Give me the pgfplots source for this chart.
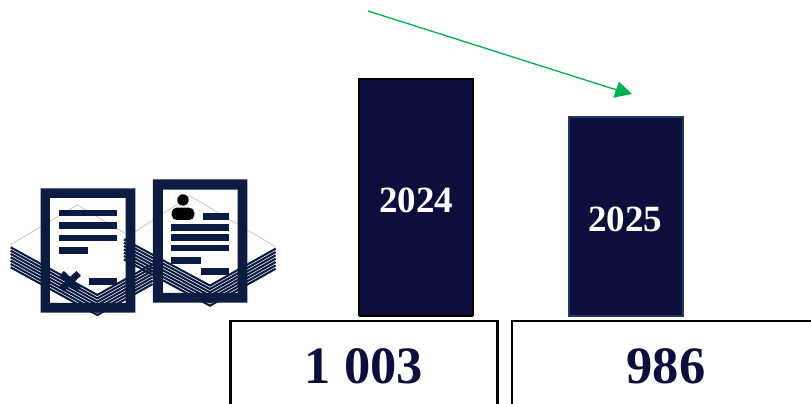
\documentclass[border=0pt]{standalone}
\usepackage{fontspec}
\setmainfont{Liberation Serif}
\usepackage{pgfplots}
\pgfplotsset{compat=1.18}
\definecolor{barnavy}{HTML}{0C0F3C}
\definecolor{iconnavy}{HTML}{0B1B42}
\definecolor{edge}{HTML}{1F3864}
\definecolor{arrowgreen}{HTML}{00B050}
\begin{document}
\begin{tikzpicture}[x=1pt,y=1pt]
\path[use as bounding box] (0,0) rectangle (811,404);
\begin{axis}[
  at={(0pt,88pt)}, anchor=south west,
  width=811pt, height=316pt, scale only axis,
  xmin=0, xmax=811, ymin=897, ymax=1038.3,
  hide axis, ybar, bar shift=0pt, bar width=114pt
]
\addplot[fill=barnavy, draw=black, line width=2.5pt] coordinates {(416,1003)};
\addplot[fill=barnavy, draw=edge, line width=2pt] coordinates {(625.5,986)};
\end{axis}
% bar feet
\draw[black, line width=2.5pt] (359,88) -- (473,88);
\draw[edge, line width=2pt] (567.5,87.5) -- (683.5,87.5);
\node[text=white, font=\fontsize{37}{37}\selectfont\bfseries] at (416,204) {2024};
\node[text=white, font=\fontsize{37}{37}\selectfont\bfseries] at (625,185) {2025};
% value boxes
\draw[black, line width=2.5pt] (230.5,-10) rectangle (497.5,83);
\draw[black, line width=2pt] (512,-10) -- (512,83) -- (820,83);
\node[text=barnavy, font=\fontsize{52.5}{53}\selectfont\bfseries] at (364,38) {1 003};
\node[text=barnavy, font=\fontsize{52.5}{53}\selectfont\bfseries] at (666,38) {986};
% arrow
\draw[arrowgreen, line width=1.3pt] (368,393) -- (620,313);
\fill[arrowgreen] (632,310) -- (613.3,306.3) -- (619,322.3) -- cycle;
% icons, in coordinates of a 3x enlargement
\begin{scope}[x=0.3333pt,y=-0.3333pt,shift={(0pt,234pt)}]
  % first stack
  \draw[gray!50, line width=0.7pt] (30,225) -- (232,105) -- (375,190);
  \foreach \d in {0,10,...,60} {
    \draw[iconnavy, line width=2.1pt] (32,232+\d) -- (292,375+\d) -- (458,282+\d);
  }
  % second stack
  \draw[gray!50, line width=0.7pt] (375,205) -- (570,78) -- (827,230);
  \foreach \d in {0,10,...,60} {
    \draw[iconnavy, line width=2.1pt] (372,208+\d) -- (630,347+\d) -- (827,236+\d);
  }
  % first frame
  \fill[iconnavy, even odd rule] (122,55) rectangle (406,428) (150,84) rectangle (377,399);
  \fill[iconnavy] (176,120) rectangle (351,139);
  \fill[iconnavy] (176,157) rectangle (351,177);
  \fill[iconnavy] (176,194) rectangle (351,214);
  \fill[iconnavy] (176,231) rectangle (264,251);
  \fill[iconnavy] (268,325) rectangle (351,344);
  \draw[iconnavy, line width=6.5pt] (185,310) -- (236,358) (236,310) -- (185,358);
  % second frame
  \fill[iconnavy, even odd rule] (459,28) rectangle (742,398) (489,59) rectangle (713,369);
  \fill[iconnavy] (610,129) rectangle (688,150);
  \fill[iconnavy] (513,163) rectangle (688,183);
  \fill[iconnavy] (513,193) rectangle (688,214);
  \fill[iconnavy] (513,224) rectangle (688,244);
  \fill[iconnavy] (513,260) rectangle (602,281);
  \fill[iconnavy] (603,295) rectangle (688,316);
  \fill[black] (549,90) circle[radius=5.7pt];
  \fill[black, rounded corners=5pt] (515,150) -- (515,113) -- (583,113) -- (583,150) -- cycle;
\end{scope}
\end{tikzpicture}
\end{document}
